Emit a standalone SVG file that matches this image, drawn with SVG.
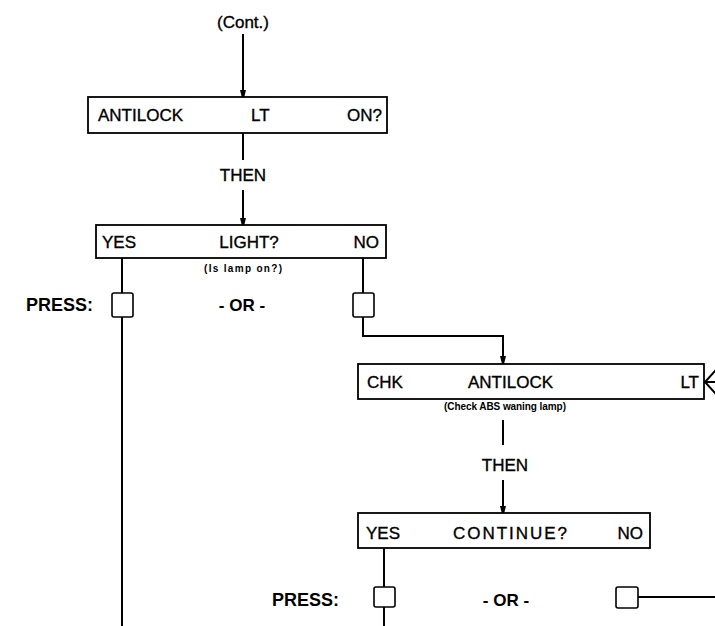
<svg xmlns="http://www.w3.org/2000/svg" width="715" height="626" viewBox="0 0 715 626">
<style>
.box{fill:#fff;stroke:#000;stroke-width:1.8}
.btn{fill:#fff;stroke:#000;stroke-width:1.6}
.ln{fill:none;stroke:#000;stroke-width:2}
.t{font-family:"Liberation Sans",Arial,sans-serif;font-size:17px;fill:#000;stroke:#000;stroke-width:0.35}
.b{font-family:"Liberation Sans",Arial,sans-serif;font-weight:bold;fill:#000}
</style>
<defs>
<marker id="ah" markerUnits="userSpaceOnUse" markerWidth="12" markerHeight="20" refX="10" refY="5" orient="auto" viewBox="0 0 20 10">
<path d="M0,0 L20,5 L0,10 Z" fill="#000"/>
</marker>
</defs>
<rect width="715" height="626" fill="#fff"/>
<g id="connectors">
<line class="ln" x1="243" y1="34" x2="243" y2="96" marker-end="url(#ah)"/>
<line class="ln" x1="243" y1="133" x2="243" y2="160"/>
<line class="ln" x1="243" y1="190" x2="243" y2="224" marker-end="url(#ah)"/>
<line class="ln" x1="122" y1="258" x2="122" y2="293"/>
<line class="ln" x1="122" y1="317" x2="122" y2="626"/>
<line class="ln" x1="363" y1="258" x2="363" y2="293"/>
<polyline class="ln" points="363,317 363,336 503,336 503,362" marker-end="url(#ah)"/>
<line class="ln" x1="705" y1="382" x2="715" y2="382"/>
<polyline class="ln" points="716,370 705,382 716,394"/>
<line class="ln" x1="503" y1="420" x2="503" y2="445"/>
<line class="ln" x1="503" y1="480" x2="503" y2="512" marker-end="url(#ah)"/>
<line class="ln" x1="384" y1="548" x2="384" y2="587"/>
<line class="ln" x1="384" y1="607" x2="384" y2="626"/>
<line class="ln" x1="638" y1="597" x2="715" y2="597"/>
</g>
<g id="cont"><text class="t" x="243" y="28" text-anchor="middle">(Cont.)</text></g>
<g id="antilock-lt-on">
<rect class="box" x="88" y="97" width="299" height="36"/>
<text class="t" x="98" y="121">ANTILOCK</text>
<text class="t" x="251" y="121">LT</text>
<text class="t" x="382" y="121" text-anchor="end">ON?</text>
</g>
<g id="then1"><text class="t" x="243" y="181" text-anchor="middle">THEN</text></g>
<g id="light">
<rect class="box" x="96" y="225" width="290" height="33"/>
<text class="t" x="102" y="248">YES</text>
<text class="t" x="249" y="248" text-anchor="middle">LIGHT?</text>
<text class="t" x="379" y="248" text-anchor="end">NO</text>
<text class="b" x="243" y="272" font-size="10" text-anchor="middle" textLength="78" lengthAdjust="spacing">(Is lamp on?)</text>
</g>
<g id="press1">
<text class="b" x="26" y="311" font-size="18">PRESS:</text>
<rect class="btn" x="112" y="293" width="21" height="24" rx="2"/>
<text class="b" x="242" y="311" font-size="17" text-anchor="middle">- OR -</text>
<rect class="btn" x="353" y="293" width="21" height="24" rx="2"/>
</g>
<g id="chk-antilock">
<rect class="box" x="358" y="364" width="346" height="35"/>
<text class="t" x="367" y="388">CHK</text>
<text class="t" x="468" y="388">ANTILOCK</text>
<text class="t" x="699" y="388" text-anchor="end">LT</text>
<text class="b" x="505" y="410" font-size="10" text-anchor="middle" textLength="122" lengthAdjust="spacing">(Check ABS waning lamp)</text>
</g>
<g id="then2"><text class="t" x="505" y="471" text-anchor="middle">THEN</text></g>
<g id="continue">
<rect class="box" x="358" y="513" width="292" height="35"/>
<text class="t" x="366" y="539">YES</text>
<text class="t" x="453" y="539" textLength="114" lengthAdjust="spacing">CONTINUE?</text>
<text class="t" x="643" y="539" text-anchor="end">NO</text>
</g>
<g id="press2">
<text class="b" x="272" y="606" font-size="18">PRESS:</text>
<rect class="btn" x="374" y="587" width="21" height="20" rx="2"/>
<text class="b" x="506" y="606" font-size="17" text-anchor="middle">- OR -</text>
<rect class="btn" x="616" y="587" width="22" height="21" rx="2"/>
</g>
</svg>
